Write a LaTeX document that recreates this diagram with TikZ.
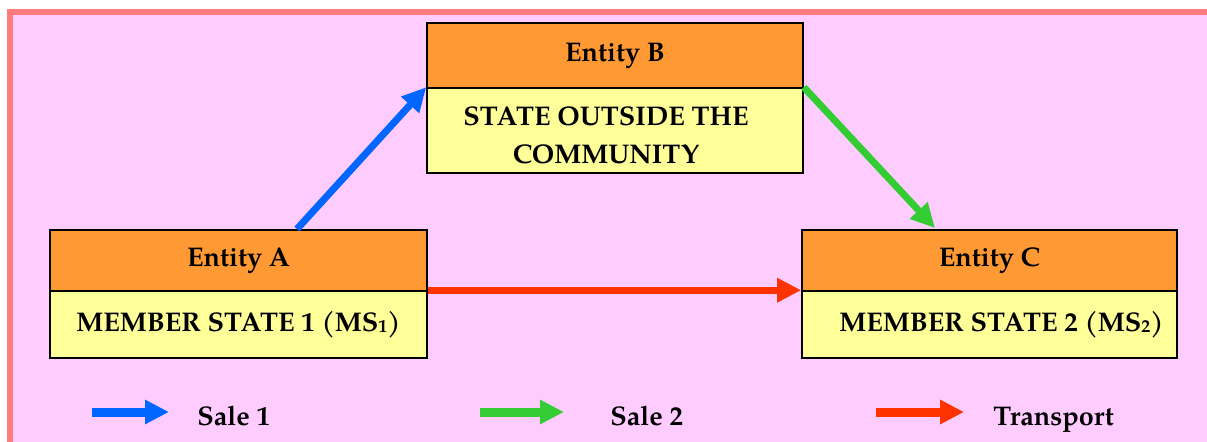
\documentclass[tikz,border=0pt]{standalone}
\usepackage{fontspec}
\setmainfont{TeX Gyre Pagella}
\usetikzlibrary{arrows.meta}

\definecolor{framefill}{HTML}{FFCCFF}
\definecolor{frameline}{HTML}{FF7B80}
\definecolor{headfill}{HTML}{FF9933}
\definecolor{bodyfill}{HTML}{FFFF99}
\definecolor{saleone}{HTML}{0066FF}
\definecolor{saletwo}{HTML}{33CC33}
\definecolor{transport}{HTML}{FF3300}

\newcommand{\smallsub}[1]{{\fontsize{9}{9}\selectfont\raisebox{-0.8pt}{#1}}}

\tikzset{
  txt/.style={font=\fontsize{13.5}{19}\selectfont\bfseries, text=black},
  headbox/.style={txt, draw=black, line width=0.8pt, fill=headfill, inner sep=0pt, align=center},
  bodybox/.style={txt, draw=black, line width=0.8pt, fill=bodyfill, inner sep=0pt, align=center},
  flow/.style={line width=3.5pt, -{Triangle[length=12pt, width=11.5pt]}},
  legendarrow/.style={line width=4.5pt, -{Triangle[length=12pt, width=11.5pt]}},
  legendtext/.style={txt, anchor=base west, inner sep=0pt},
}

\begin{document}
\begin{tikzpicture}[x=0.5pt, y=-0.5pt]
  \useasboundingbox (0,0) rectangle (1207,441);
  \clip (0,0) rectangle (1207,441);

  % background frame
  \draw[frameline, line width=3pt, fill=framefill] (10,12) rectangle (1260,500);

  % Entity B
  \node[headbox, minimum width=188pt, minimum height=32.5pt] (bh) at (615,55.5) {Entity B};
  \node[bodybox, minimum width=188pt, minimum height=42.5pt] (bb) at (615,130.5) {};
  \node[txt, align=center, inner sep=0pt] (bbtext) at (606,135)
    {STATE OUTSIDE THE\\COMMUNITY};

  % Entity A
  \node[headbox, minimum width=188.5pt, minimum height=30.5pt] (ah) at (238.5,260.5) {Entity A};
  \node[bodybox, minimum width=188.5pt, minimum height=33.5pt] (ab) at (238.5,324.5)
    {MEMBER STATE 1 (MS\smallsub{1})};

  % Entity C
  \node[headbox, minimum width=187.5pt, minimum height=30.5pt] (ch) at (989.5,260.5) {Entity C};
  \node[bodybox, minimum width=187.5pt, minimum height=33.5pt] (cb) at (989.5,324.5)
    {\hspace*{12pt}MEMBER STATE 2 (MS\smallsub{2})};

  % flows
  \coordinate (saleonestart) at (297,229);
  \coordinate (saletwoend) at (935,228);
  \draw[flow, saleone] (saleonestart) -- (bb.north west);
  \draw[flow, saletwo] (bb.north east) -- (saletwoend);
  \draw[flow, transport] (ab.north east) -- (cb.north west);

  % legend
  \coordinate (l1a) at (92,412);  \coordinate (l1b) at (169,412);
  \coordinate (l2a) at (480,412); \coordinate (l2b) at (564,412);
  \coordinate (l3a) at (876,412); \coordinate (l3b) at (964,412);
  \draw[legendarrow, saleone] (l1a) -- (l1b);
  \draw[legendarrow, saletwo] (l2a) -- (l2b);
  \draw[legendarrow, transport] (l3a) -- (l3b);
  \node[legendtext] (t1) at (197,425) {Sale 1};
  \node[legendtext] (t2) at (610,425) {Sale 2};
  \node[legendtext] (t3) at (993,425) {Transport};
\end{tikzpicture}
\end{document}
